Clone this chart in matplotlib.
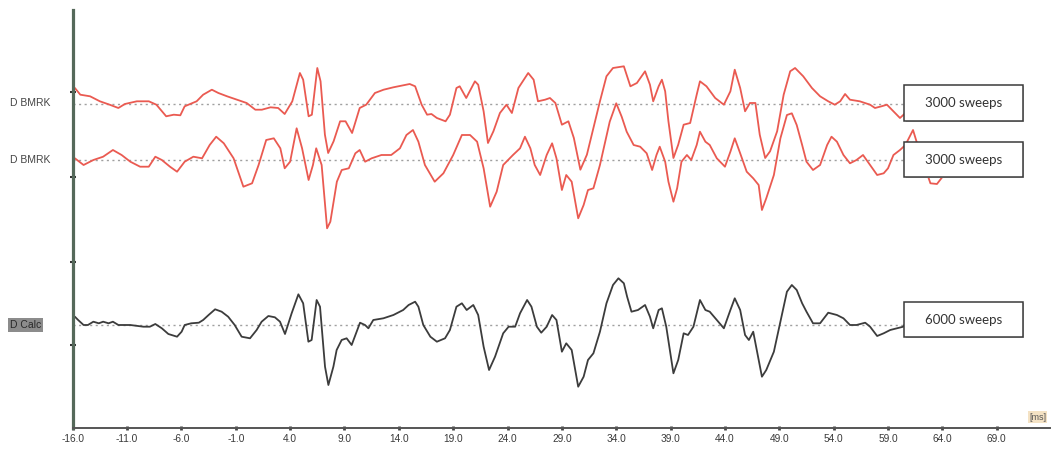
import numpy as np
import matplotlib.pyplot as plt
from matplotlib.patches import Rectangle

# latency axis (ms) and amplitudes (relative to each channel baseline)
bmrk1_ms = [-15.8, -15.3, -14.4, -13.5, -12.6, -11.8, -11.2, -10.1, -9.0, -8.3,
            -7.4, -6.7, -6.1, -5.7, -4.6, -4.0, -3.2, -2.6, -1.8, -0.9,
            0.0, 0.8, 1.4, 2.2, 2.9, 3.5, 4.2, 4.9, 5.2, 5.7,
            6.0, 6.5, 6.8, 7.2, 7.5, 8.0, 8.6, 9.1, 9.7, 10.4,
            11.0, 11.8, 12.6, 13.5, 14.4, 15.0, 15.5, 16.1, 16.6, 17.0,
            17.5, 18.3, 18.7, 19.3, 19.6, 20.2, 21.0, 21.3, 21.8, 22.2,
            22.7, 23.3,
            23.9, 24.4, 25.0, 25.9, 26.4, 26.8, 27.45, 27.9, 28.4, 29.0,
            29.6, 30.1, 30.7, 31.3, 31.9, 32.5, 33.1, 33.7, 34.7, 35.3,
            35.9, 36.65, 37.1, 37.4, 37.9, 38.2, 38.5, 38.8, 39.26, 39.7,
            40.2, 40.8, 41.4, 41.7, 42.3, 43.1, 43.9, 44.5, 44.9, 45.4,
            45.85, 46.3, 46.8, 47.2, 47.7, 48.15, 48.8, 49.4, 50.0, 50.45,
            51.2, 52.0, 52.75, 53.5, 54.1, 54.6, 55.05, 55.5, 56.4, 57.35,
            57.8, 58.4, 58.9, 59.5, 60.1, 60.6]
bmrk1_amp = [16, 9.3, 7.7, 2.7, -0.7, -4, 0, 2.7, 2.7, -0.7,
             -12.3, -10.7, -11.3, -2.3, 2.7, 9.3, 14.3, 11, 7.7, 4.3,
             1, -5.7, -5.7, -3.3, -4, -10, 2.7, 31, 24.3, -12.3,
             -10.7, 36, 22.7, -30.7, -49, -37.3, -17.3, -17.3, -29, -4,
             -0.7, 11, 14.3, 16.7, 18.7, 20, 17.7, -0.7, -10.7, -10,
             -14, -17.3, -10.7, 16, 17.7, 6, 22.7, 19.3, -7.3, -39,
             -27.3, -9,
             -0.7, -9, 16, 31, 24.3, 2.7, 4.3, 6, 1, -20.7,
             -17.3, -34, -65.7, -50.7, -24, 2.7, 27.7, 36, 37.7, 17.7,
             21, 32.7, 19.3, 2.7, 17.7, 24.3, 12.7, -17.3, -54, -40.7,
             -20.7, -19, 9.3, 22.7, 17.7, 6, -0.7, 12.7, 34.3, 16,
             -7.3, 1, 1, -30.7, -54, -47.3, -27.3, 9.3, 32.7, 36,
             27.7, 16, 7.7, 2.7, -0.7, 2.7, 10, 4.3, 2.7, -0.7,
             -4, -2.3, -0.7, -7.3, -14, -9]

bmrk2_ms = [-15.8, -15.0, -14.1, -13.2, -12.3, -11.5, -10.7, -9.8, -9.0, -8.4,
            -7.8, -7.05, -6.4, -5.7, -4.9, -4.1, -3.4, -2.8, -2.1, -1.2,
            -0.3, 0.5, 1.1, 1.8, 2.5, 3.1, 3.5, 4.0, 4.6, 5.1,
            5.7, 6.1, 6.4, 6.9, 7.4, 7.7, 8.3, 8.75, 9.4, 10.0,
            10.4, 10.9, 11.5, 12.4, 13.3, 14.1, 14.7, 15.3, 15.8, 16.4,
            17.3, 18.1, 19.0, 19.8, 20.55, 21.2, 21.8, 22.4, 23.0, 23.6,
            24.5, 25.15, 25.6, 26.1, 26.5, 27.0, 27.6, 28.1, 28.5, 29.0,
            29.4, 29.9, 30.5, 31.0, 31.4, 31.9, 32.5, 33.4, 34.0, 34.5,
            34.96, 35.6, 36.2, 36.8, 37.3, 37.7, 38.0, 38.5, 38.8, 39.26,
            39.6, 40.0, 40.5, 40.9, 41.4, 41.7, 42.2, 42.6, 43.25, 44.0,
            44.5, 44.9, 45.4, 46.0, 46.6, 47.1, 47.4, 47.8, 48.5, 49.1,
            49.7, 50.15, 50.6, 51.1, 51.5, 52.1, 52.75, 53.4, 53.8, 54.3,
            54.9, 55.5, 56.1, 56.7, 57.35, 58.0, 58.6, 59.0, 59.5, 60.1,
            60.6, 61.3, 62.0, 62.9, 63.5, 64.0]
bmrk2_amp = [1.7, -5, 0, 3.3, 10, 5, -1.7, -6.7, -6.7, 3.3,
             0, -6.7, -11.7, -1.7, 3.3, 1.7, 15, 23.3, 16.7, 1.7,
             -26.7, -23.3, -5, 20, 21.7, 11.7, -8.3, -1.7, 31.7, 11.7,
             -20, -5, 11.7, -5, -68.3, -61.7, -21.7, -10, -8.3, 6.7,
             10, -1.7, 1.7, 5, 5, 11.7, 25, 30, 18.3, -5,
             -21.7, -13.3, 5, 25, 25, 18.3, -8.3, -46.7, -31.7, -5,
             5, 11.7, 23.3, 11.7, -5, -15, 5, 16.7, 1.7, -30,
             -15, -21.7, -58.3, -45, -30, -28.3, -5, 38.3, 56.7, 43.3,
             28.3, 15, 13.3, 6.7, -10, 5, 13.3, -1.7, -21.7, -41.7,
             -28.3, -1.7, 5, 0, 15, 28.3, 18.3, 15, 1.7, -6.7,
             8.3, 21.7, 6.7, -11.7, -18.3, -25, -50, -38.3, -15, 21.7,
             45, 46.7, 35, 15, -1.7, -10, -5, 15, 23.3, 18.3,
             5, -3.3, 0, 5, -5, -15, -13.3, -8.3, 5, 10,
             15, 30, 5, -23.3, -24, -17]

calc_ms = [-15.8, -15.5, -15.0, -14.6, -14.1, -13.6, -13.2, -12.7, -12.3, -11.8,
           -10.7, -9.5, -8.9, -8.4, -7.8, -7.2, -6.4, -5.98, -5.7, -5.1,
           -4.4, -4.0, -3.5, -2.9, -2.3, -1.7, -1.1, -0.46, 0.31, 0.92,
           1.38, 2.0, 2.6, 3.07, 3.53, 4.14, 4.76, 5.2, 5.68, 5.98,
           6.44, 6.75, 7.21, 7.52, 7.98, 8.28, 8.74, 9.2, 9.66, 10.43,
           10.89, 11.2, 11.65, 12.58, 13.5, 14.4, 14.9, 15.5, 15.8, 16.25,
           16.9, 17.5, 18.25, 18.7, 19.3, 19.8, 20.24, 20.85, 21.3, 21.8,
           22.3, 22.85, 23.6, 24.1,
           24.7, 25.15, 25.8, 26.2, 26.7, 27.1, 27.6, 28.1, 28.5, 29.0,
           29.4, 29.9, 30.5, 31.0, 31.4, 31.9, 32.5, 33.1, 33.7, 34.2,
           34.7, 35.0, 35.4, 36.0, 36.65, 37.1, 37.4, 37.9, 38.2, 38.6,
           39.26, 39.7, 40.2, 40.6, 41.1, 41.7, 42.2, 42.6, 43.25, 43.9,
           44.5, 44.9, 45.4, 45.85, 46.2, 46.6, 47.4, 47.8, 48.5, 49.1,
           49.7, 50.15, 50.6, 51.1, 51.5, 52.1, 52.75, 53.5, 54.3, 54.9,
           55.5, 56.1, 56.9, 57.35, 58.0, 58.6, 59.2, 59.8, 60.4, 60.9]
calc_amp = [8.3, 5, 0, 0, 3.3, 1.7, 3.3, 1.7, 3.3, 0,
            0, -1.7, -1.7, 1, -3.3, -9, -11.7, -6.7, 0, 1.7,
            2.3, 5, 10, 15.7, 13.3, 8.3, 0, -11.7, -13.3, -5,
            3.3, 9, 7.7, 3.3, -9, 11.7, 30.7, 21.7, -16.7, -15,
            25, 18.3, -41.7, -60, -41.7, -25, -15, -13.3, -20, 2.3,
            0, -3.3, 5, 6.7, 10, 15, 20, 23.3, 18.3, 0,
            -11.7, -16.7, -13.3, -5, 18.3, 21.7, 15, 20, 10, -21.7,
            -45, -31.7, -8.3, -1.7,
            -1.7, 11.7, 25, 18.3, -1.7, -7.7, -1.7, 10, 5, -26.7,
            -18.3, -25, -61.7, -51.7, -35, -28.3, -6.7, 21.7, 40, 46.7,
            41.7, 28.3, 13.3, 15, 20, 8.3, -3.3, 15, 16.7, -1.7,
            -48.3, -35, -8.3, -10, -1.7, 25, 15, 13.3, 5, -3.3,
            15, 26.7, 15, -10, -15, -6.7, -51.7, -45, -26.7, 3.3,
            33.3, 40, 35, 21.7, 13.3, 1.7, 1.7, 12.3, 10, 6.7,
            0, 0, 2.3, -1.7, -11, -8.3, -5, -3.3, -1.7, 6.7]

channel_names = ["D BMRK", "D BMRK", "D Calc"]
sweep_labels = ["3000 sweeps", "3000 sweeps", "6000 sweeps"]
x_ticks = [-16, -11, -6, -1, 4, 9, 14, 19, 24, 29, 34, 39, 44, 49, 54, 59, 64, 69]

W, H = 1053, 453
fig = plt.figure(figsize=(W / 100, H / 100), dpi=100)
ax = fig.add_axes([72.7 / W, 25 / H, (1050 - 72.7) / W, (428 - 10) / H])
ax.set_xlim(-16, 73.9)
ax.set_ylim(0, 418)

baselines = [324, 268, 103]
colors = ["#ea5a51", "#ea5a51", "#3c3c3c"]
traces = [(bmrk1_ms, bmrk1_amp), (bmrk2_ms, bmrk2_amp), (calc_ms, calc_amp)]
line_ends = [60.5, 60.7, 60.9]

for (t, a), base, c, xend in zip(traces, baselines, colors, line_ends):
    ax.hlines(base, -16, xend, colors="#a0a0a0", linestyles=(0, (1.5, 2.5)), lw=1.0, zorder=1)
    ax.plot(t, base + np.array(a), color=c, lw=1.3, zorder=2,
            solid_joinstyle="round", solid_capstyle="round")

# sweep count boxes on the right
box_y = [(307, 343), (251, 286), (91, 126)]
for (y0, y1), lab in zip(box_y, sweep_labels):
    x0 = 60.5
    w = 10.9
    ax.add_patch(Rectangle((x0 + 0.12, y0 - 1.2), w, y1 - y0, facecolor="#c4c4c4",
                           edgecolor="none", zorder=4, clip_on=False))
    ax.add_patch(Rectangle((x0, y0), w, y1 - y0, facecolor="white",
                           edgecolor="#3a3a3a", lw=1.1, zorder=5, clip_on=False))
    ax.text(x0 + w / 2, (y0 + y1) / 2, lab, ha="center", va="center",
            fontsize=9.5, family="Lato", color="#333333", zorder=6)

# axes styling
for s in ["top", "right"]:
    ax.spines[s].set_visible(False)
ax.spines["left"].set_color("#55695a")
ax.spines["left"].set_linewidth(2.3)
ax.spines["bottom"].set_color("#555555")
ax.spines["bottom"].set_linewidth(1.4)

ax.set_xticks(x_ticks)
ax.set_xticklabels([f"{v:.1f}" for v in x_ticks], family="Liberation Sans",
                   fontsize=7.3, color="#3a3a3a")
ax.tick_params(axis="x", direction="inout", length=3, width=2, color="#444444", pad=3)
ax.set_yticks([336, 251, 166, 83])
ax.set_yticklabels([])
ax.tick_params(axis="y", direction="inout", length=4, width=1.5, color="#333333")

# channel names on the left
name_y = [103, 160, 325]
for name, py in zip(channel_names, name_y):
    kw = dict(fontsize=7.5, family="Liberation Sans", color="#444444", va="center", ha="left")
    if name == "D Calc":
        kw["bbox"] = dict(boxstyle="square,pad=0.2", facecolor="#8c8c8c", edgecolor="none")
        kw["color"] = "#2a2a2a"
    fig.text(10 / W, 1 - py / H, name, **kw)

fig.text(1029 / W, 1 - 417 / H, "[ms]", fontsize=6.5, family="Liberation Sans",
         color="#555555", va="center", ha="left",
         bbox=dict(boxstyle="square,pad=0.15", facecolor="#f4e2c4", edgecolor="none"))

fig.savefig("out.png", dpi=100)
